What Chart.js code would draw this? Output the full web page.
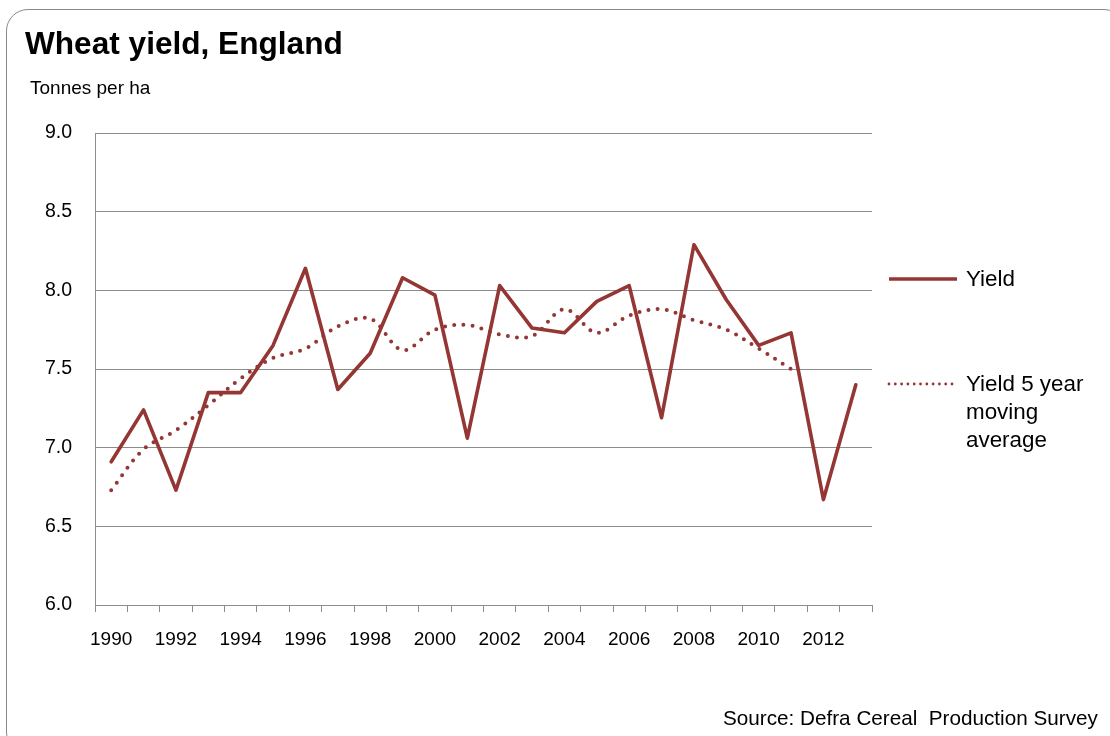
<!DOCTYPE html>
<html><head><meta charset="utf-8">
<script src="https://cdn.jsdelivr.net/npm/chart.js@4/dist/chart.umd.min.js"></script>
<style>
html,body{margin:0;padding:0;background:#fff;}
#wrap{position:relative;width:1110px;height:736px;overflow:hidden;font-family:"Liberation Sans",Arial,sans-serif;}
#frame{position:absolute;left:6px;top:9px;width:1120px;height:745px;border:1.5px solid #8a8a8a;border-radius:22px;box-sizing:border-box;}
#c{position:absolute;left:0;top:0;}
.t{position:absolute;white-space:pre;color:#000;line-height:1;}
</style></head><body>
<div id="wrap">
<div id="frame"></div>
<canvas id="c" width="1110" height="736"></canvas>
<div class="t" style="left:25px;top:28px;font-size:31.6px;font-weight:bold;">Wheat yield, England</div>
<div class="t" style="left:30px;top:78px;font-size:19px;">Tonnes per ha</div>
<div class="t" style="left:723px;top:708px;font-size:20.7px;">Source: Defra Cereal  Production Survey</div>
</div>
<script>
const years = ['1990','1991','1992','1993','1994','1995','1996','1997','1998','1999','2000','2001',
               '2002','2003','2004','2005','2006','2007','2008','2009','2010','2011','2012','2013'];
const yieldVals = [6.91, 7.24, 6.73, 7.35, 7.35, 7.65, 8.14, 7.37, 7.60, 8.08, 7.97, 7.06,
                   8.03, 7.76, 7.73, 7.93, 8.03, 7.19, 8.29, 7.94, 7.65, 7.73, 6.67, 7.40];
const movingAvgVals = [6.73, 6.99, 7.11, 7.27, 7.44, 7.57, 7.63, 7.77, 7.82, 7.62, 7.75, 7.78,
                       7.72, 7.71, 7.88, 7.73, 7.84, 7.88, 7.81, 7.75, 7.63, 7.50, null, null];
const seriesNames = ['Yield', 'Yield 5 year moving average'];
const legendLines = [['Yield'], ['Yield 5 year', 'moving', 'average']];
const yTicks = [6.0, 6.5, 7.0, 7.5, 8.0, 8.5, 9.0];

const RED = '#943634';
const GRID = '#8c8c8c';
const FONT = '"Liberation Sans", Arial, sans-serif';

const sideLegend = {
  id: 'sideLegend',
  afterDraw(chart) {
    const ctx = chart.ctx;
    const rows = [{y: 279, dotted: false}, {y: 384, dotted: true}];
    ctx.save();
    rows.forEach((r, i) => {
      const ds = chart.data.datasets[i];
      ctx.beginPath();
      ctx.strokeStyle = ds.borderColor;
      if (r.dotted) {
        ctx.lineWidth = 2.8;
        ctx.lineCap = 'round';
        ctx.setLineDash([0, 6.3]);
      } else {
        ctx.lineWidth = 3.5;
        ctx.lineCap = 'butt';
        ctx.setLineDash([]);
      }
      ctx.moveTo(889, r.y);
      ctx.lineTo(957, r.y);
      ctx.stroke();
      ctx.setLineDash([]);
      ctx.fillStyle = '#000';
      ctx.font = '22.4px ' + FONT;
      ctx.textAlign = 'left';
      ctx.textBaseline = 'middle';
      legendLines[i].forEach((line, k) => {
        ctx.fillText(line, 966, r.y + 1 + k * 28);
      });
    });
    ctx.restore();
  }
};

new Chart(document.getElementById('c'), {
  type: 'line',
  data: {
    labels: years,
    datasets: [
      {label: seriesNames[0], data: yieldVals, borderColor: RED, borderWidth: 3.6,
       pointRadius: 0, tension: 0, borderJoinStyle: 'round', borderCapStyle: 'round', fill: false},
      {label: seriesNames[1], data: movingAvgVals, borderColor: RED, borderWidth: 4,
       pointRadius: 0, tension: 0.35, borderDash: [0, 9.2], borderCapStyle: 'round', fill: false}
    ]
  },
  options: {
    responsive: false,
    animation: false,
    devicePixelRatio: 1,
    layout: {padding: {left: 0, top: 133, right: 238, bottom: 0}},
    plugins: {legend: {display: false}, tooltip: {enabled: false}, title: {display: false}},
    scales: {
      x: {
        type: 'category',
        offset: true,
        afterFit(s) { s.height = 131; },
        grid: {display: true, drawOnChartArea: false, drawTicks: true, tickLength: 7, offset: true,
               color: GRID, lineWidth: 1},
        border: {display: true, color: GRID, width: 1},
        ticks: {
          autoSkip: false, maxRotation: 0, minRotation: 0, padding: 16,
          color: '#000', font: {family: FONT, size: 19},
          callback: (v, i) => (i % 2 === 0 ? years[i] : '')
        }
      },
      y: {
        min: 6, max: 9,
        afterFit(s) { s.width = 95; },
        afterBuildTicks(s) { s.ticks = yTicks.map(v => ({value: v})); },
        grid: {display: true, drawTicks: false, color: GRID, lineWidth: 1},
        border: {display: true, color: GRID, width: 1},
        ticks: {
          padding: 23, color: '#000', font: {family: FONT, size: 19.5},
          callback: v => Number(v).toFixed(1)
        }
      }
    }
  },
  plugins: [sideLegend]
});
</script>
</body></html>
